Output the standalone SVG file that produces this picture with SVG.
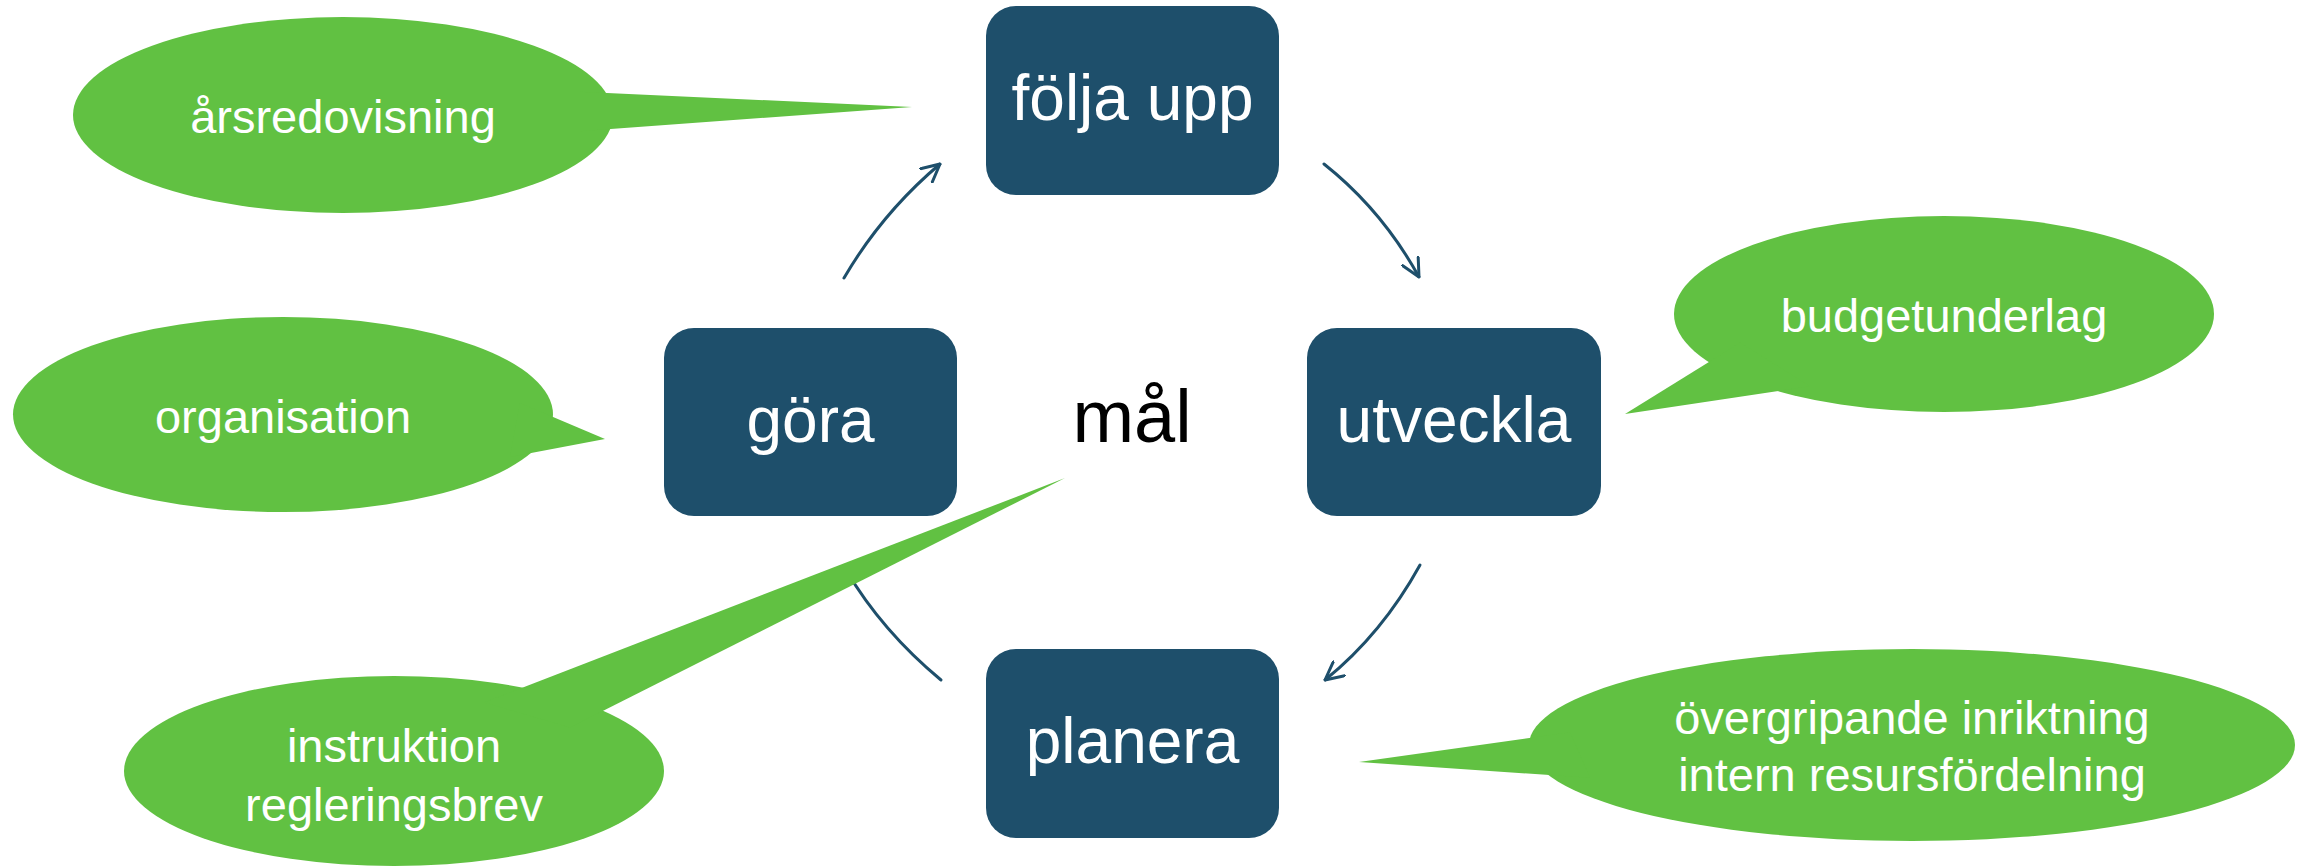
<svg xmlns="http://www.w3.org/2000/svg" width="2308" height="868" viewBox="0 0 2308 868">
<defs>
<style>
.box{fill:#1E4F6B}
.bt{fill:#FFFFFF;font-family:"Liberation Sans",Arial,sans-serif;font-size:64px;text-anchor:middle}
.bub{fill:#61C142}
.gt{fill:#FFFFFF;font-family:"Liberation Sans",Arial,sans-serif;font-size:47px;text-anchor:middle}
.conn{fill:none;stroke:#1E4F6B;stroke-width:3;stroke-linecap:round}
.goal{fill:#000000;font-family:"Liberation Sans",Arial,sans-serif;font-size:74px;text-anchor:middle}
</style>
<marker id="arr" viewBox="0 0 20 20" markerWidth="20" markerHeight="20" markerUnits="userSpaceOnUse" refX="19" refY="10" orient="auto">
<path d="M1,1 L19,10 L1,19" fill="none" stroke="#1E4F6B" stroke-width="3" stroke-linecap="round" stroke-linejoin="round"/>
</marker>
</defs>
<rect width="2308" height="868" fill="#FFFFFF"/>
<g id="connectors">
<path class="conn" d="M844,278 Q882,213 940,164" marker-end="url(#arr)"/>
<path class="conn" d="M1324,164 Q1382,210 1419,277" marker-end="url(#arr)"/>
<path class="conn" d="M1420,565 Q1382,634 1325,680" marker-end="url(#arr)"/>
<path class="conn" d="M941,680 Q882,631 846,570"/>
</g>
<g id="folja-upp">
<rect class="box" x="986" y="6" width="293" height="189" rx="30"/>
<text class="bt" x="1132.5" y="120">följa upp</text>
</g>
<g id="utveckla">
<rect class="box" x="1307" y="328" width="294" height="188" rx="30"/>
<text class="bt" x="1454" y="442">utveckla</text>
</g>
<g id="planera">
<rect class="box" x="986" y="649" width="293" height="189" rx="30"/>
<text class="bt" x="1132.5" y="763">planera</text>
</g>
<g id="gora">
<rect class="box" x="664" y="328" width="293" height="188" rx="30"/>
<text class="bt" x="810.5" y="442">göra</text>
</g>
<g id="mal">
<text class="goal" x="1132" y="442">mål</text>
</g>
<g id="arsredovisning">
<ellipse class="bub" cx="343" cy="115" rx="270" ry="98"/>
<polygon class="bub" points="580,91.7 912,107 580,131.3"/>
<text class="gt" x="343" y="133">årsredovisning</text>
</g>
<g id="organisation">
<ellipse class="bub" cx="283" cy="414.5" rx="270" ry="97.5"/>
<polygon class="bub" points="520,403 605,439 510,457"/>
<text class="gt" x="283" y="433">organisation</text>
</g>
<g id="instruktion">
<ellipse class="bub" cx="394" cy="771" rx="270" ry="95"/>
<polygon class="bub" points="484,702.5 1065,478 570,727.6"/>
<text class="gt" x="394" y="762">instruktion</text>
<text class="gt" x="394" y="821">regleringsbrev</text>
</g>
<g id="budgetunderlag">
<ellipse class="bub" cx="1944" cy="314" rx="270" ry="98"/>
<polygon class="bub" points="1740,342.8 1625,414 1810,386.2"/>
<text class="gt" x="1944" y="332">budgetunderlag</text>
</g>
<g id="overgripande">
<ellipse class="bub" cx="1912" cy="745" rx="383" ry="96"/>
<polygon class="bub" points="1570,732.2 1359,762 1590,777.8"/>
<text class="gt" x="1912" y="734">övergripande inriktning</text>
<text class="gt" x="1912" y="791">intern resursfördelning</text>
</g>
</svg>
